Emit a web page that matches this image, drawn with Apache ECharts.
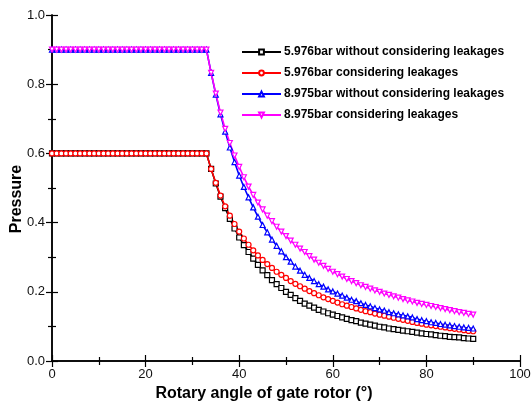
<!DOCTYPE html>
<html>
<head>
<meta charset="utf-8">
<script src="https://cdn.jsdelivr.net/npm/echarts@6/dist/echarts.min.js"></script>
<style>html,body{margin:0;padding:0;background:#fff}#c{width:531px;height:403px}</style>
</head>
<body>
<div id="c"></div>
<script>
var angles = [0,1,2,3,4,5,6,7,8,9,10,11,12,13,14,15,16,17,18,19,20,21,22,23,24,25,26,27,28,29,30,31,32,33,
34,35,36,37,38,39,40,41,42,43,44,45,46,47,48,49,50,51,52,53,54,55,56,57,58,59,60,61,62,63,64,65,66,67,68,69,70,
71,72,73,74,75,76,77,78,79,80,81,82,83,84,85,86,87,88,89,90];

var p5976NoLeak = [0.6,0.6,0.6,0.6,0.6,0.6,0.6,0.6,0.6,0.6,0.6,0.6,0.6,0.6,0.6,0.6,0.6,0.6,0.6,0.6,0.6,0.6,0.6,0.6,0.6,0.6,0.6,0.6,0.6,0.6,0.6,0.6,0.6,0.6,
0.555,0.513,0.475,0.442,0.411,0.383,0.357,0.335,0.315,0.296,0.278,0.262,0.248,0.234,0.222,0.211,0.200,0.191,0.182,0.174,0.166,0.160,0.154,0.148,0.143,0.138,0.134,
0.130,0.126,0.122,0.118,0.115,0.111,0.108,0.105,0.102,0.099,0.097,0.094,0.092,0.090,0.088,0.086,0.084,0.082,0.080,0.078,0.077,0.075,0.073,0.072,0.070,0.069,0.068,0.066,0.065,0.064];

var p5976Leak = [0.6,0.6,0.6,0.6,0.6,0.6,0.6,0.6,0.6,0.6,0.6,0.6,0.6,0.6,0.6,0.6,0.6,0.6,0.6,0.6,0.6,0.6,0.6,0.6,0.6,0.6,0.6,0.6,0.6,0.6,0.6,0.6,0.6,0.6,
0.555,0.515,0.478,0.447,0.420,0.396,0.374,0.354,0.336,0.320,0.305,0.292,0.280,0.269,0.258,0.249,0.240,0.231,0.223,0.216,0.209,0.202,0.196,0.190,0.184,0.179,0.174,
0.169,0.164,0.160,0.156,0.152,0.148,0.144,0.141,0.137,0.134,0.131,0.128,0.125,0.122,0.119,0.116,0.113,0.110,0.108,0.105,0.103,0.101,0.099,0.097,0.095,0.093,0.091,0.089,0.087,0.086];

var p8975NoLeak = [0.9,0.9,0.9,0.9,0.9,0.9,0.9,0.9,0.9,0.9,0.9,0.9,0.9,0.9,0.9,0.9,0.9,0.9,0.9,0.9,0.9,0.9,0.9,0.9,0.9,0.9,0.9,0.9,0.9,0.9,0.9,0.9,0.9,0.9,
0.833,0.770,0.713,0.663,0.617,0.575,0.536,0.503,0.473,0.444,0.417,0.393,0.372,0.351,0.333,0.317,0.300,0.287,0.273,0.261,0.249,0.240,0.231,0.222,0.215,0.207,0.201,
0.195,0.189,0.183,0.177,0.173,0.167,0.162,0.158,0.153,0.149,0.146,0.141,0.138,0.135,0.132,0.129,0.126,0.121,0.118,0.115,0.112,0.110,0.107,0.105,0.103,0.101,0.099,0.097,0.096,0.094];

var p8975Leak = [0.9,0.9,0.9,0.9,0.9,0.9,0.9,0.9,0.9,0.9,0.9,0.9,0.9,0.9,0.9,0.9,0.9,0.9,0.9,0.9,0.9,0.9,0.9,0.9,0.9,0.9,0.9,0.9,0.9,0.9,0.9,0.9,0.9,0.9,
0.833,0.773,0.718,0.671,0.630,0.594,0.561,0.531,0.504,0.480,0.458,0.438,0.420,0.404,0.388,0.374,0.361,0.348,0.336,0.325,0.315,0.303,0.293,0.284,0.275,0.266,0.258,
0.251,0.244,0.237,0.231,0.225,0.219,0.214,0.209,0.204,0.200,0.195,0.191,0.187,0.183,0.179,0.175,0.172,0.168,0.165,0.162,0.159,0.156,0.153,0.150,0.147,0.144,0.141,0.139,0.136,0.134];

var seriesNames = ['5.976bar without considering leakages','5.976bar considering leakages','8.975bar without considering leakages','8.975bar considering leakages'];
var xTicks = [0,20,40,60,80,100];
var yTicks = [0.0,0.2,0.4,0.6,0.8,1.0];

function pairs(ys){ return angles.map(function(a,i){ return [a, ys[i]]; }); }

var FONT = '"Liberation Sans", Arial, sans-serif';
var axisLineStyle = {color:'#000', width:1.5};

function mkSeries(name, ys, color, symbol, rot){
  return {
    name: name, type:'line', data: pairs(ys),
    symbol: symbol, symbolSize: 5, symbolRotate: rot || 0,
    showAllSymbol: true,
    lineStyle:{color:color, width:1.6},
    itemStyle:{color:'#fff', borderColor:color, borderWidth:1.2},
    emphasis:{disabled:true}, animation:false, z: 3
  };
}

var chart = echarts.init(document.getElementById('c'));
chart.setOption({
  animation:false,
  backgroundColor:'#fff',
  textStyle:{fontFamily:FONT},
  grid:{left:52, right:11, top:15, bottom:42, containLabel:false, outerBoundsMode:'none'},
  legend:{
    orient:'vertical', left:241, top:45, padding:0,
    itemWidth:39, itemHeight:6, itemGap:7,
    textStyle:{fontFamily:FONT, fontSize:12, fontWeight:'bold', color:'#000', lineHeight:14, padding:[0,0,0,-2]},
    data: seriesNames
  },
  xAxis:[{
    type:'value', min:0, max:100, interval:20,
    name:'Rotary angle of gate rotor (°)', nameLocation:'middle', nameGap:24,
    nameTextStyle:{fontFamily:FONT, fontSize:16, fontWeight:'bold', color:'#000', padding:[0,44,0,0]},
    axisLine:{show:true, lineStyle:axisLineStyle},
    axisTick:{show:true, inside:true, length:6, lineStyle:{color:'#000', width:1.2}},
    minorTick:{show:true, splitNumber:2, length:4, lineStyle:{color:'#000', width:1.2}},
    axisLabel:{fontFamily:FONT, fontSize:13, color:'#111', margin:7},
    splitLine:{show:false}
  },{
    type:'value', position:'top', min:0, max:100, interval:20,
    axisLine:{show:true, lineStyle:axisLineStyle},
    axisTick:{show:true, inside:true, length:6, lineStyle:{color:'#000', width:1.2}},
    minorTick:{show:true, splitNumber:2, length:4, lineStyle:{color:'#000', width:1.2}},
    axisLabel:{show:false}, splitLine:{show:false}
  }],
  yAxis:[{
    type:'value', min:0, max:1, interval:0.2,
    name:'Pressure', nameLocation:'middle', nameGap:27, nameRotate:90, nameMoveOverlap:false,
    nameTextStyle:{fontFamily:FONT, fontSize:16, fontWeight:'bold', color:'#000', padding:[0,22,0,0]},
    axisLine:{show:true, lineStyle:axisLineStyle},
    axisTick:{show:true, inside:true, length:6, lineStyle:{color:'#000', width:1.2}},
    minorTick:{show:true, splitNumber:2, length:4, lineStyle:{color:'#000', width:1.2}},
    axisLabel:{fontFamily:FONT, fontSize:13, color:'#111', margin:7, formatter:function(v){return v.toFixed(1);}},
    splitLine:{show:false}
  },{
    type:'value', position:'right', min:0, max:1, interval:0.2,
    axisLine:{show:true, lineStyle:axisLineStyle},
    axisTick:{show:true, inside:true, length:6, lineStyle:{color:'#000', width:1.2}},
    minorTick:{show:true, splitNumber:2, length:4, lineStyle:{color:'#000', width:1.2}},
    axisLabel:{show:false}, splitLine:{show:false}
  }],
  series:[
    mkSeries(seriesNames[0], p5976NoLeak, '#000000', 'rect'),
    mkSeries(seriesNames[1], p5976Leak, '#ff0000', 'circle'),
    mkSeries(seriesNames[2], p8975NoLeak, '#0000ff', 'triangle'),
    mkSeries(seriesNames[3], p8975Leak, '#ff00ff', 'triangle', 180)
  ]
});
</script>
</body>
</html>
